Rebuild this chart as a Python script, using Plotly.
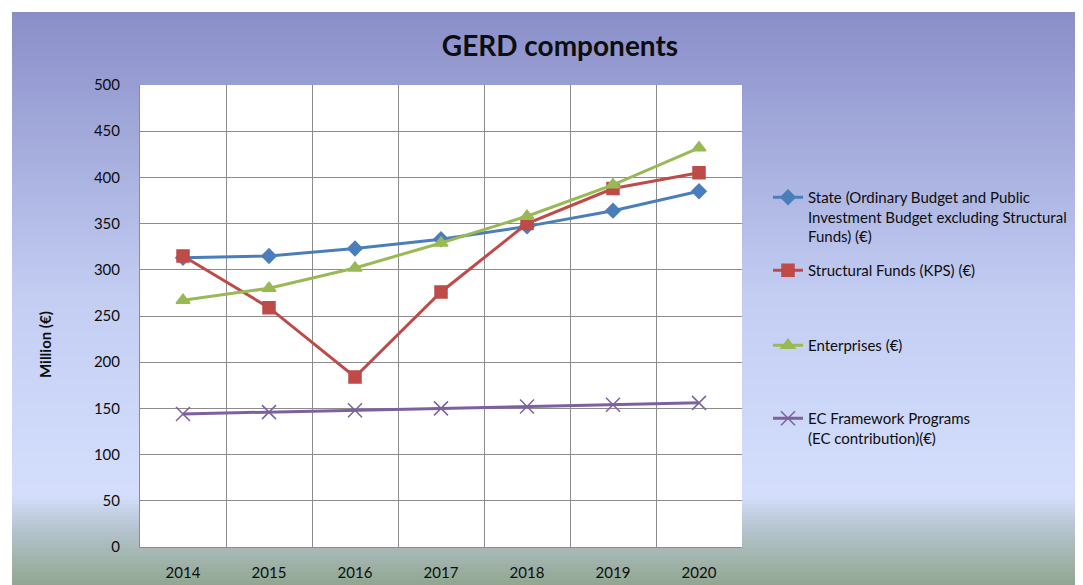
import plotly.graph_objects as go

years = ["2014", "2015", "2016", "2017", "2018", "2019", "2020"]
state = [313, 315, 323, 333, 347, 364, 385]
structural = [315, 259, 184, 276, 350, 388, 405]
enterprises = [267, 280, 302, 329, 358, 392, 432]
ec_framework = [144, 146, 148, 150, 152, 154, 156]

names = [
    "State (Ordinary Budget and Public<br>Investment Budget excluding Structural<br>Funds) (€)",
    "Structural Funds (KPS) (€)",
    "Enterprises (€)",
    "EC Framework Programs<br>(EC contribution)(€)",
]

OFF = 8  # page body margin
W, H = 1083 - OFF, 585 - OFF
# plot area in screen pixels: x 140..742, y 85..547
L, T = 140 - OFF, 85 - OFF
R, B = W - (742 - OFF), H - (547 - OFF)
pw, ph = W - L - R, H - T - B

def px_x(x):
    return (x - OFF - L) / pw

def px_y(y):
    return (H - B - (y - OFF)) / ph

FONT = "Lato, sans-serif"
INK = "#0d0d0d"

# background gradient (top blue-purple -> pale blue -> grey-green)
stops = [(12, (137, 142, 200)), (300, (196, 206, 243)), (495, (212, 222, 252)),
         (530, (180, 195, 205)), (585, (145, 166, 145))]

def col_at(y):
    for (y0, c0), (y1, c1) in zip(stops[:-1], stops[1:]):
        if y0 <= y <= y1:
            t = (y - y0) / (y1 - y0)
            return "rgb(%d,%d,%d)" % tuple(round(a + (b - a) * t) for a, b in zip(c0, c1))
    return "rgb(%d,%d,%d)" % stops[-1][1]

shapes = []
step = 4
for y in range(12, 585, step):
    shapes.append(dict(type="rect", xref="paper", yref="paper", layer="below",
                       x0=px_x(12), x1=px_x(1090), y0=px_y(y + step + 0.5), y1=px_y(y),
                       fillcolor=col_at(y + step / 2), line=dict(width=0)))
shapes.append(dict(type="rect", xref="paper", yref="paper", layer="below",
                   x0=0, x1=1, y0=0, y1=1, fillcolor="white", line=dict(width=0)))

fig = go.Figure()
styles = [
    dict(color="#4A7EBB", symbol="diamond", size=11, lc="#4A7EBB"),
    dict(color="#BE4B48", symbol="square", size=12, lc="#BE4B48"),
    dict(color="#98B954", symbol="triangle-up", size=12, lc="#98B954"),
    dict(color="#7D60A0", symbol="x-thin-open", size=14, lc="#A99CCB"),
]
series = [state, structural, enterprises, ec_framework]
legends = ["legend", "legend2", "legend3", "legend4"]
for vals, name, st, lg in zip(series, names, styles, legends):
    fig.add_trace(go.Scatter(
        x=years, y=vals, name=name, mode="lines+markers",
        line=dict(color=st["color"], width=3),
        marker=dict(symbol=st["symbol"], size=st["size"], color=st["color"],
                    line=dict(color=st["lc"], width=1.5)),
        legend=lg, showlegend=True,
    ))

leg_common = dict(font=dict(family=FONT, size=15, color=INK), bgcolor="rgba(0,0,0,0)",
                  valign="top", xref="container", yref="container",
                  xanchor="left", yanchor="top", itemwidth=30)
legend_top = [181, 254, 329, 402]
lx = (768 - OFF) / W

def ly(y):
    return 1 - (y - OFF) / H

fig.update_layout(
    width=W, height=H,
    showlegend=True,
    margin=dict(l=L, r=R, t=T, b=B, autoexpand=False),
    paper_bgcolor="white",
    plot_bgcolor="white",
    title=dict(text="<b>GERD components</b>", xref="container", x=(560 - OFF) / W,
               xanchor="center", yref="container", y=ly(46), yanchor="middle",
               font=dict(family=FONT, size=28, color=INK)),
    shapes=shapes,
    xaxis=dict(type="category", range=[-0.5, 6.5], tickson="boundaries",
               showgrid=True, gridcolor="#8c8c8c", gridwidth=1,
               showline=True, linecolor="#8c8c8c", ticks="", ticklabelstandoff=12,
               tickfont=dict(family=FONT, size=15, color=INK)),
    yaxis=dict(range=[0, 500], dtick=50, showgrid=True, gridcolor="#8c8c8c",
               showline=True, linecolor="#8c8c8c", zeroline=False,
               ticks="", ticklabelstandoff=16,
               tickfont=dict(family=FONT, size=15, color=INK)),
    annotations=[dict(text="<b>Million (€)</b>", textangle=-90, showarrow=False,
                      xref="paper", yref="paper", x=px_x(45), y=px_y(345),
                      xanchor="center", yanchor="middle",
                      font=dict(family=FONT, size=15, color=INK))],
    legend=dict(x=lx, y=ly(legend_top[0]), **leg_common),
    legend2=dict(x=lx, y=ly(legend_top[1]), **leg_common),
    legend3=dict(x=lx, y=ly(legend_top[2]), **leg_common),
    legend4=dict(x=lx, y=ly(legend_top[3]), **leg_common),
)

fig.write_html("out.html")
